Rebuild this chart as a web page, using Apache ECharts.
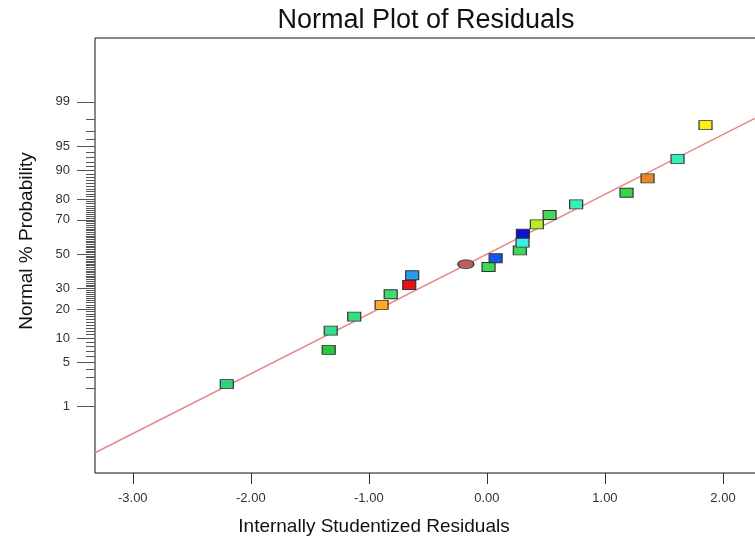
<!DOCTYPE html>
<html>
<head>
<meta charset="utf-8">
<script src="https://cdn.jsdelivr.net/npm/echarts@6/dist/echarts.min.js"></script>
<style>
  html, body { margin: 0; padding: 0; background: #fff; overflow: hidden; width: 755px; height: 540px; }
  /* the plot frame runs past the right edge of the page */
  #chart { width: 800px; height: 540px; }
</style>
</head>
<body>
<div id="chart"></div>
<script>
// Internally studentized residuals (x) and their normal % probability (y)
const residuals = [
  -2.204, -1.340, -1.323, -1.124, -0.892, -0.815, -0.658, -0.633, -0.178, 0.014,
   0.074,  0.279,  0.302,  0.305,  0.423,  0.531,  0.756,  1.183,  1.361, 1.615, 1.852
];
const probability = [
   2.36,  7.19, 12.16, 17.02, 21.92, 27.04, 31.92, 37.38, 43.88, 42.26,
  47.51, 52.37, 56.96, 62.28, 67.58, 72.51, 77.68, 82.59, 87.66, 92.68, 97.56
];
// Per-run colour (response level) and marker shape
const pointColors = [
  '#2fd47a', '#25c93f', '#33de8c', '#36dc7a', '#ffaa22', '#3cdc74', '#ee1111', '#2a9cf0', '#b86060', '#3ada55',
  '#1557ee', '#3bd95a', '#3aefe0', '#1010c8', '#b8ec22', '#45d957', '#36eeb8', '#36d844', '#ee8822', '#36eebc', '#ffee11'
];
const pointShapes = [
  'rect', 'rect', 'rect', 'rect', 'rect', 'rect', 'rect', 'rect', 'ellipse', 'rect',
  'rect', 'rect', 'rect', 'rect', 'rect', 'rect', 'rect', 'rect', 'rect', 'rect', 'rect'
];

// Axis ticks
const xTicks = [-3, -2, -1, 0, 1, 2];
const probMajorTicks = [1, 5, 10, 20, 30, 50, 70, 80, 90, 95, 99];
const probMinorTicks = [];
for (let p = 1; p <= 99; p++) if (probMajorTicks.indexOf(p) < 0) probMinorTicks.push(p);

// Reference line on the normal scale: z = slope * residual + intercept
const fitSlope = 0.913;
const fitIntercept = 0.0;

// Axis ranges (x in residual units, y in normal quantiles)
const xMin = -3.32, xMax = 2.5;
const zMin = -3.34, zMax = 3.30;

// Inverse standard normal CDF (Acklam's rational approximation)
function probit(p) {
  const a = [-3.969683028665376e+01, 2.209460984245205e+02, -2.759285104469687e+02,
             1.383577518672690e+02, -3.066479806614716e+01, 2.506628277459239e+00];
  const b = [-5.447609879822406e+01, 1.615858368580409e+02, -1.556989798598866e+02,
             6.680131188771972e+01, -1.328068155288572e+01];
  const c = [-7.784894002430293e-03, -3.223964580411365e-01, -2.400758277161838e+00,
             -2.549732539343734e+00, 4.374664141464968e+00, 2.938163982698783e+00];
  const d = [7.784695709041462e-03, 3.224671290700398e-01, 2.445134137142996e+00,
             3.754408661907416e+00];
  const pl = 0.02425;
  let q, r;
  if (p < pl) {
    q = Math.sqrt(-2 * Math.log(p));
    return (((((c[0]*q+c[1])*q+c[2])*q+c[3])*q+c[4])*q+c[5]) / ((((d[0]*q+d[1])*q+d[2])*q+d[3])*q+1);
  }
  if (p <= 1 - pl) {
    q = p - 0.5; r = q * q;
    return (((((a[0]*r+a[1])*r+a[2])*r+a[3])*r+a[4])*r+a[5])*q / (((((b[0]*r+b[1])*r+b[2])*r+b[3])*r+b[4])*r+1);
  }
  q = Math.sqrt(-2 * Math.log(1 - p));
  return -(((((c[0]*q+c[1])*q+c[2])*q+c[3])*q+c[4])*q+c[5]) / ((((d[0]*q+d[1])*q+d[2])*q+d[3])*q+1);
}
const pctToZ = pct => probit(pct / 100);

const majorZ = probMajorTicks.map(pctToZ);
const minorZ = probMinorTicks.map(pctToZ);

const points = residuals.map((x, i) => ({
  value: [x, pctToZ(probability[i])],
  symbol: pointShapes[i] === 'ellipse' ? 'circle' : 'rect',
  symbolSize: pointShapes[i] === 'ellipse' ? [16, 9] : [13, 9],
  itemStyle: { color: pointColors[i] }
}));

const fitLine = [
  [xMin, fitSlope * xMin + fitIntercept],
  [xMax, fitSlope * xMax + fitIntercept]
];

const chart = echarts.init(document.getElementById('chart'), null, { renderer: 'canvas' });
const FONT = '"Liberation Sans", Arial, sans-serif';

chart.setOption({
  animation: false,
  backgroundColor: '#ffffff',
  grid: {
    left: 95, top: 38, bottom: 67, right: 18,
    show: true, borderColor: '#111', borderWidth: 1, backgroundColor: 'transparent'
  },
  xAxis: {
    type: 'value', min: xMin, max: xMax,
    axisLine: { show: false, onZero: false },
    splitLine: { show: false },
    axisTick: { show: true, customValues: xTicks, length: 11, lineStyle: { color: '#333', width: 1 } },
    axisLabel: {
      customValues: xTicks, margin: 19, color: '#333', fontSize: 13, fontFamily: FONT,
      formatter: v => v.toFixed(2)
    }
  },
  yAxis: [
    {
      type: 'value', min: zMin, max: zMax,
      axisLine: { show: false, onZero: false },
      splitLine: { show: false },
      axisTick: { show: true, customValues: majorZ, length: 18, lineStyle: { color: '#555', width: 1 } },
      axisLabel: {
        customValues: majorZ, margin: 25, color: '#333', fontSize: 13, fontFamily: FONT,
        formatter: v => {
          let best = 0;
          majorZ.forEach((z, i) => { if (Math.abs(z - v) < Math.abs(majorZ[best] - v)) best = i; });
          return String(probMajorTicks[best]);
        }
      }
    },
    {
      type: 'value', min: zMin, max: zMax, position: 'left',
      axisLine: { show: false, onZero: false },
      splitLine: { show: false },
      axisTick: { show: true, customValues: minorZ, length: 9, lineStyle: { color: '#555', width: 1 } },
      axisLabel: { show: false }
    }
  ],
  series: [
    {
      type: 'line', data: fitLine, showSymbol: false, silent: true, z: 1,
      lineStyle: { color: '#e58a8a', width: 1.5 }
    },
    {
      type: 'scatter', data: points, z: 3,
      itemStyle: { borderColor: '#333', borderWidth: 1, opacity: 1 }
    }
  ],
  graphic: [
    {
      type: 'text', x: 426, y: 21,
      style: { text: 'Normal Plot of Residuals', font: '27px ' + FONT, fill: '#111', align: 'center', verticalAlign: 'middle' }
    },
    {
      type: 'text', x: 374, y: 527,
      style: { text: 'Internally Studentized Residuals', font: '19px ' + FONT, fill: '#111', align: 'center', verticalAlign: 'middle' }
    },
    {
      type: 'text', x: 27, y: 241, rotation: Math.PI / 2,
      style: { text: 'Normal % Probability', font: '19px ' + FONT, fill: '#111', align: 'center', verticalAlign: 'middle' }
    }
  ]
});
</script>
</body>
</html>
